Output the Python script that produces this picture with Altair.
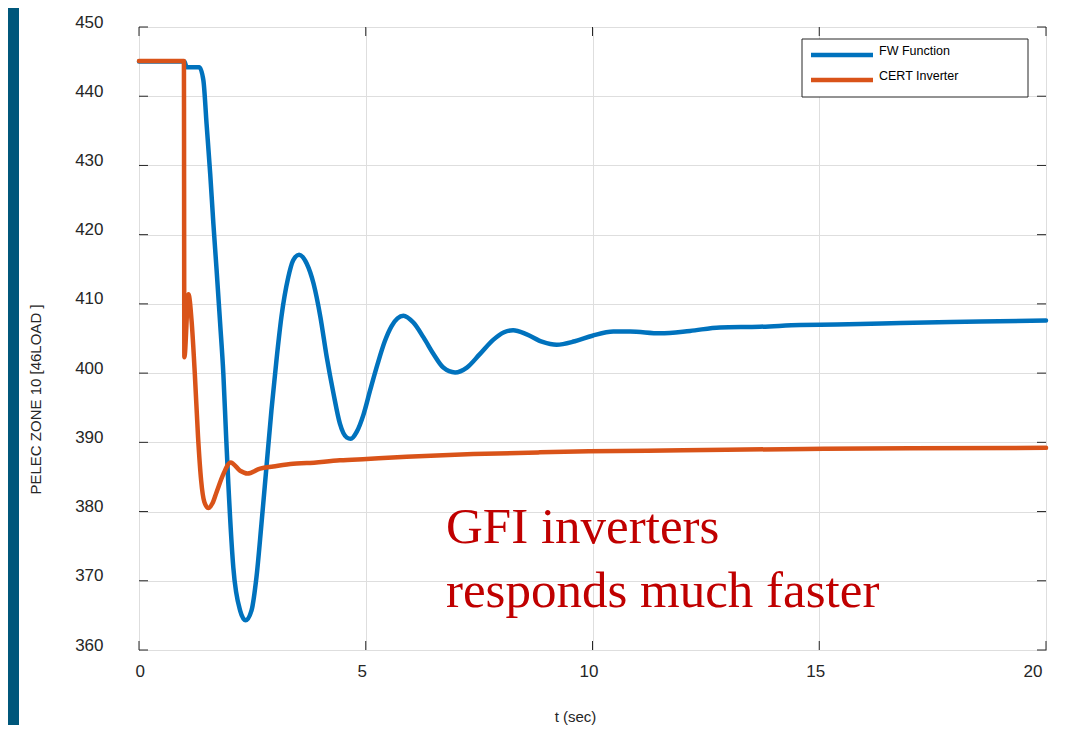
import altair as alt
import pandas as pd

# ---------------- data ----------------
fw_t = [0.0, 1.0, 1.05, 1.33, 1.42, 1.49, 1.57, 1.64, 1.71, 1.79, 1.86, 1.92, 1.97,
        2.08, 2.23, 2.35, 2.48, 2.59, 2.70, 2.81, 2.92, 3.03, 3.14, 3.29, 3.40, 3.53,
        3.70, 3.85, 4.00, 4.14, 4.29, 4.43, 4.58, 4.67, 4.80, 4.95, 5.10, 5.26, 5.42,
        5.57, 5.70, 5.83, 6.05, 6.27, 6.49, 6.71, 6.97, 7.23, 7.51, 7.81, 8.05, 8.25,
        8.55, 8.90, 9.21, 9.61, 10.0, 10.46, 10.83, 11.49, 12.15, 12.81, 13.69, 14.58,
        15.02, 15.9, 16.8, 18.55, 20.0]
fw_v = [445.0, 445.0, 444.2, 444.2, 442.3, 436.0, 428.8, 421.6, 415.0, 407.1, 399.9,
        391.0, 384.0, 371.9, 365.7, 364.3, 365.7, 370.5, 378.2, 386.4, 394.6, 401.8,
        408.1, 413.8, 416.3, 417.1, 415.8, 412.9, 408.1, 402.3, 397.0, 392.7, 390.7,
        390.5, 391.5, 394.0, 397.6, 401.3, 404.6, 406.8, 407.9, 408.3, 407.3, 405.2,
        402.8, 400.8, 400.1, 400.8, 402.7, 404.8, 405.9, 406.2, 405.6, 404.5, 404.1,
        404.6, 405.4, 406.0, 406.0, 405.75, 406.1, 406.6, 406.7, 406.95, 407.0, 407.1,
        407.25, 407.45, 407.6]

cert_t = [0.0, 0.99, 1.0, 1.09, 1.16, 1.23, 1.30, 1.37, 1.44, 1.53, 1.62, 1.71, 1.86,
          2.02, 2.23, 2.39, 2.67, 2.96, 3.40, 3.70, 4.43, 5.02, 5.90, 7.37, 8.84, 9.92,
          12.0, 14.7, 17.0, 20.0]
cert_v = [445.1, 445.1, 402.3, 411.4, 407.5, 400.0, 391.0, 384.5, 381.4, 380.5, 381.2,
          382.8, 385.4, 387.1, 385.9, 385.5, 386.2, 386.5, 386.9, 387.0, 387.4, 387.6,
          387.9, 388.3, 388.55, 388.7, 388.85, 389.05, 389.15, 389.2]

series_names = ["FW Function", "CERT Inverter"]
series_colors = ["#0072BD", "#D95319"]
x_ticks = [0, 5, 10, 15, 20]
y_ticks = [360, 370, 380, 390, 400, 410, 420, 430, 440, 450]
x_title = "t (sec)"
y_title = "PELEC ZONE 10 [46LOAD ]"
annotation_lines = ["GFI inverters", "responds much faster"]

# ---------------- layout / style ----------------
W, H = 907, 623
AX = "#262626"
FONT = "Liberation Sans"

fw_df = pd.DataFrame({"t": fw_t, "v": fw_v, "series": series_names[0]})
cert_df = pd.DataFrame({"t": cert_t, "v": cert_v, "series": series_names[1]})
leg_df = pd.DataFrame({"series": series_names})
ann_df = pd.DataFrame({"line": annotation_lines})
one_df = pd.DataFrame({"a": [0]})
xt_df = pd.DataFrame({"t": x_ticks})
yt_df = pd.DataFrame({"v": y_ticks})

x_scale = alt.Scale(domain=[0, 20], nice=False, zero=False)
y_scale = alt.Scale(domain=[360, 450], nice=False, zero=False)
color_scale = alt.Scale(domain=series_names, range=series_colors)

x_axis = alt.Axis(values=x_ticks, title=x_title, grid=True, gridColor="#dedede",
                  ticks=False, domain=False, labelFont=FONT, labelFontSize=17,
                  labelColor=AX, labelPadding=13, labelOffset=-4,
                  titleFont=FONT, titleFontSize=15, titleFontWeight="normal",
                  titleColor=AX, titleX=436, titleY=66, titleBaseline="middle",
                  titleAlign="center")
y_axis = alt.Axis(values=y_ticks, title=y_title, grid=True, gridColor="#dedede",
                  ticks=False, domain=False, labelFont=FONT, labelFontSize=17,
                  labelColor=AX, labelPadding=36, labelBaseline="alphabetic",
                  titleFont=FONT, titleFontSize=15, titleFontWeight="normal",
                  titleColor=AX, titleX=-104, titleY=372, titleAngle=-90,
                  titleBaseline="middle", titleAlign="center")

X = alt.X("t:Q", scale=x_scale, axis=x_axis)
Y = alt.Y("v:Q", scale=y_scale, axis=y_axis)


def series_line(df):
    return alt.Chart(df).mark_line(strokeWidth=4.5, interpolate="monotone",
                                   strokeCap="round", strokeJoin="round").encode(
        x=X, y=Y,
        color=alt.Color("series:N", scale=color_scale, legend=None),
    )


layers = []

layers.append(series_line(fw_df))
layers.append(series_line(cert_df))

# inward ticks on all four sides
for x0, x1 in [(0, 9), (W - 9, W)]:
    layers.append(alt.Chart(yt_df).mark_rule(color=AX, strokeWidth=1).encode(
        y=Y, x=alt.value(x0), x2=alt.value(x1)))
for y0, y1 in [(H, H - 9), (0, 9)]:
    layers.append(alt.Chart(xt_df).mark_rule(color=AX, strokeWidth=1).encode(
        x=X, y=alt.value(y0), y2=alt.value(y1)))

# slide decoration strip on the left
layers.append(alt.Chart(one_df).mark_rect(color="#00577B").encode(
    x=alt.value(-131), x2=alt.value(-120), y=alt.value(-19), y2=alt.value(698)))

# legend box
layers.append(alt.Chart(one_df).mark_rect(fill="white", stroke=AX, strokeWidth=1).encode(
    x=alt.value(663), x2=alt.value(889), y=alt.value(12), y2=alt.value(70)))
for i, name in enumerate(series_names):
    base = alt.Chart(leg_df).transform_filter(alt.datum.series == name)
    layers.append(base.mark_rule(strokeWidth=4.5).encode(
        x=alt.value(672), x2=alt.value(734), y=alt.value(28 + 25 * i),
        color=alt.Color("series:N", scale=color_scale, legend=None)))
    layers.append(base.mark_text(align="left", baseline="middle", font=FONT,
                                 fontSize=12.5, color="#000000").encode(
        x=alt.value(740), y=alt.value(24 + 25 * i), text="series:N"))

# annotation
for i, txt in enumerate(annotation_lines):
    layers.append(alt.Chart(ann_df).transform_filter(alt.datum.line == txt).mark_text(
        align="left", baseline="alphabetic", font="Liberation Serif", fontSize=51,
        color="#C00000").encode(
        x=alt.value(307), y=alt.value(516 + 64 * i), text="line:N"))

chart = alt.layer(*layers).properties(
    width=W, height=H,
    padding={"left": 131, "top": 19, "right": 20, "bottom": 75},
    autosize=alt.AutoSizeParams(type="none"),
    background="white",
).configure_view(stroke=AX, strokeWidth=1)

chart.save("out.html", embed_options={"renderer": "svg", "actions": False})
